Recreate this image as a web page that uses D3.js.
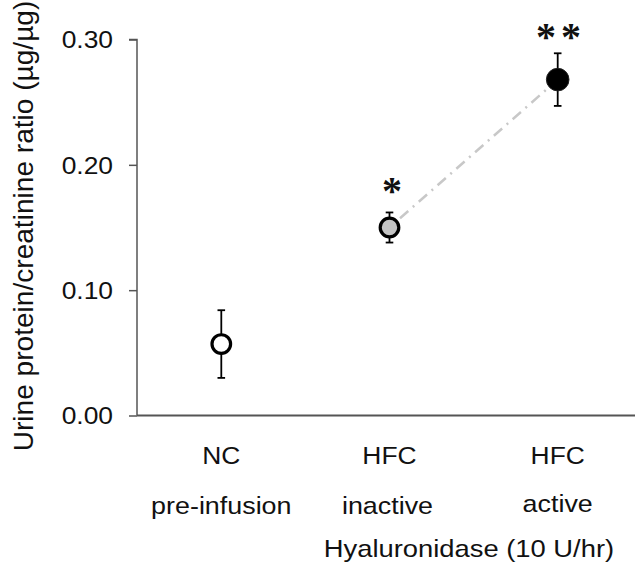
<!DOCTYPE html>
<html><head><meta charset="utf-8">
<script src="https://cdn.jsdelivr.net/npm/d3@7"></script>
<style>
html,body{margin:0;padding:0;background:#fff;}
text{font-family:Arial,"Liberation Sans",sans-serif;fill:#111;}
</style></head>
<body><svg id="chart" width="635" height="562"></svg>
<script>
const groups = ["NC", "HFC", "HFC"];
const subLabels = ["pre-infusion", "inactive", "active"];
const keys = ["nc", "inactive", "active"];
const means = [0.057, 0.150, 0.268];
const errors = [0.027, 0.012, 0.021];
const fills = ["#ffffff", "#c4c4c4", "#000000"];
const stars = ["", "*", "**"];
const yTicks = [0.00, 0.10, 0.20, 0.30];
const yLabel = "Urine protein/creatinine ratio (µg/µg)";
const xTitle = "Hyaluronidase (10 U/hr)";

const svg = d3.select("#chart");
const x = d3.scalePoint().domain(keys).range([221.3, 557.7]);
const y = d3.scaleLinear().domain([0, 0.3]).range([415.5, 39.5]);
const axisColor = "#555";

// y axis
const yAxis = svg.append("g").attr("transform", "translate(137,0)")
  .call(d3.axisLeft(y).tickValues(yTicks).tickFormat(d3.format(".2f")).tickSize(8).tickPadding(0));
yAxis.select(".domain").attr("stroke", axisColor).attr("stroke-width", 1.5).attr("d", `M-8,${y(0.3)}H0V${y(0)}`);
yAxis.selectAll(".tick line").attr("stroke", axisColor).attr("stroke-width", 1.5);
yAxis.selectAll(".tick text").remove();
yAxis.selectAll(".tick").append("text")
  .attr("transform", "translate(-24,0) scale(1.1,1)")
  .attr("text-anchor", "end").attr("dy", "0.35em")
  .style("font-size", "24px").style("fill", "#111")
  .text(d => d3.format(".2f")(d));

// x axis line
svg.append("line").attr("x1", 137).attr("x2", 635).attr("y1", y(0)).attr("y2", y(0))
  .attr("stroke", axisColor).attr("stroke-width", 1.8);

// y label
svg.append("text")
  .attr("transform", `translate(33,${226}) rotate(-90) scale(1.17)`)
  .attr("text-anchor", "middle").style("font-size", "24px").text(yLabel);

// category labels
keys.forEach((k, i) => {
  svg.append("text").attr("transform", `translate(${x(k)},464) scale(1.1,1)`)
    .attr("text-anchor", "middle").style("font-size", "24px").text(groups[i]);
  svg.append("text").attr("transform", `translate(${x(k) + (i === 1 ? -2 : 0)},${i === 2 ? 511.5 : 514}) scale(1.12,1)`)
    .attr("text-anchor", "middle").style("font-size", "24px").text(subLabels[i]);
});
svg.append("text").attr("transform", `translate(469,556.5) scale(1.14,1)`)
  .attr("text-anchor", "middle").style("font-size", "24px").text(xTitle);

// dash-dot connecting line between inactive and active
const p1 = [x(keys[1]), y(means[1])], p2 = [x(keys[2]), y(means[2])];
const dx = p2[0] - p1[0], dy = p2[1] - p1[1], L = Math.hypot(dx, dy);
const r1 = 14, r2 = 14;
svg.append("line")
  .attr("x1", p1[0] + dx / L * r1).attr("y1", p1[1] + dy / L * r1)
  .attr("x2", p2[0] - dx / L * r2).attr("y2", p2[1] - dy / L * r2)
  .attr("stroke", "#c8c8c8").attr("stroke-width", 2.5)
  .attr("stroke-dasharray", "11,6,2,6");

// error bars
const eb = svg.append("g").attr("stroke", "#000").attr("stroke-width", 1.8);
keys.forEach((k, i) => {
  const cx = x(k);
  eb.append("line").attr("x1", cx).attr("x2", cx).attr("y1", y(means[i] + errors[i])).attr("y2", y(means[i] - errors[i]));
  [means[i] + errors[i], means[i] - errors[i]].forEach(v => {
    eb.append("line").attr("x1", cx - 3.8).attr("x2", cx + 3.8).attr("y1", y(v)).attr("y2", y(v));
  });
});

// markers
svg.selectAll("circle.pt").data(keys).join("circle").attr("class", "pt")
  .attr("cx", d => x(d)).attr("cy", (d, i) => y(means[i]))
  .attr("r", (d, i) => i === 2 ? 11.3 : 9.3)
  .attr("fill", (d, i) => fills[i])
  .attr("stroke", (d, i) => i === 2 ? "#222" : "#000")
  .attr("stroke-width", (d, i) => i === 2 ? 1 : 3.2);

// significance stars
const starPos = [null, [392, 204], [561, 50]];
keys.forEach((k, i) => {
  if (!stars[i]) return;
  svg.append("text").attr("x", starPos[i][0]).attr("y", starPos[i][1])
    .attr("text-anchor", "middle")
    .style("font-family", "'Liberation Serif','Times New Roman',serif")
    .style("font-weight", "bold")
    .style("font-size", "40px").style("letter-spacing", i === 2 ? "5px" : "0px")
    .text(stars[i]);
});
</script></body></html>
